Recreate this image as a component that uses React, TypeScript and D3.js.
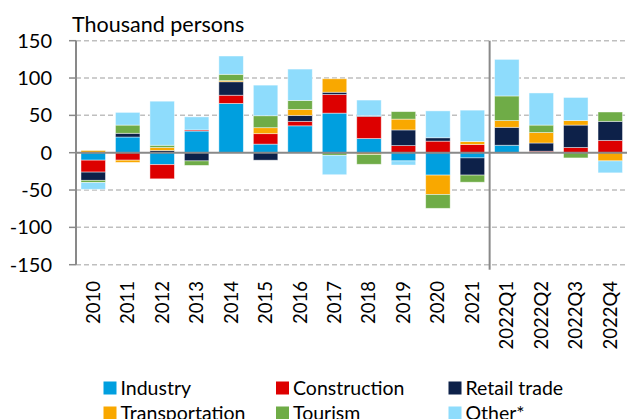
import React from "react";
import * as d3 from "d3";

const categories = ["2010","2011","2012","2013","2014","2015","2016","2017","2018","2019","2020","2021","2022Q1","2022Q2","2022Q3","2022Q4"];
const seriesNames = ["Industry","Construction","Retail trade","Transportation","Tourism","Other*"];
const industry =       [-10, 21, -16, 29, 66, 11.5, 36, 53, 19, -11, -30, -7, 10, 0, 0, 0];
const construction =   [-16, -10, -19, 1.5, 11, 14, 6, 25, 29.5, 9.5, 15.5, 11, 0, 2, 7, 16.5];
const retail =         [-11, 5, 3, -11, 18, -10, 8, 3, 1, 21, 4.5, -23, 24, 11, 30, 25.5];
const transportation = [3, -3, 4, 0, 1.5, 8, 8, 18, -2.5, 14.5, -26, 4, 9, 14, 6, -11];
const tourism =        [-3, 11, 3, -6, 8.5, 16, 12, -3.5, -13, 10, -18.5, -9.5, 33, 10, -7, 12.5];
const other =          [-9, 17, 59, 17.5, 24.5, 41, 42, -26, 21, -5.5, 36, 42, 49, 43, 31, -16];
const yTicks = [150, 100, 50, 0, -50, -100, -150];
const colors = ["#009FDF", "#DD0000", "#0D2149", "#F9A800", "#6FAC47", "#8EDCFC"];

const W = 627, H = 419;
const FONT = "Lato, 'Open Sans', sans-serif";

export default function App() {
  const seriesValues = [industry, construction, retail, transportation, tourism, other];
  const rows = categories.map((c, i) => {
    const r: any = { cat: c };
    seriesNames.forEach((s, j) => (r[s] = seriesValues[j][i]));
    return r;
  });
  const stacked = d3.stack<any>().keys(seriesNames).offset(d3.stackOffsetDiverging)(rows);

  const x = d3.scaleBand().domain(categories).range([76, 627.5]).paddingInner(0.29).paddingOuter(0.145);
  const y = d3.scaleLinear().domain([-150, 150]).range([264.7, 40.7]);
  const x0 = 76, x1 = 627;
  const step = x.step();
  const sepX = (x("2022Q1") as number) - (x.paddingInner() * step) / 2;

  const legendCols = [103.5, 276, 448.5];
  const legendRows = [381.5, 406.5];

  return (
    <svg width={W} height={H} style={{ position: "absolute", left: 0, top: 0, background: "#fff" }} fontFamily={FONT}>
      <text x={72} y={32} fontSize={21.5} fill="#000">Thousand persons</text>
      {yTicks.filter(t => t !== 0).map(t => (
        <line key={"g" + t} x1={x0} x2={x1} y1={y(t)} y2={y(t)} stroke="#BFBFBF" strokeWidth={1.5} strokeDasharray="5,3" />
      ))}
      {yTicks.map(t => (
        <g key={"t" + t}>
          <line x1={x0 - 7} x2={x0} y1={y(t)} y2={y(t)} stroke="#898989" strokeWidth={1.5} />
          <text x={52} y={y(t)} dy="0.35em" textAnchor="end" fontSize={20} fill="#000">{t}</text>
        </g>
      ))}
      {stacked.map((s, j) => (
        <g key={s.key} fill={colors[j]}>
          {s.map((d, i) => {
            const h = Math.abs(y(d[0]) - y(d[1]));
            if (h < 0.01) return null;
            return (
              <rect key={i} x={x(categories[i])} width={x.bandwidth()} y={Math.min(y(d[0]), y(d[1]))} height={h}
                stroke="#ffffff" strokeOpacity={0.55} strokeWidth={0.8} />
            );
          })}
        </g>
      ))}
      <line x1={x0} x2={x1} y1={y(0)} y2={y(0)} stroke="#898989" strokeWidth={2} />
      <line x1={x0} x2={x0} y1={y(150)} y2={y(-150)} stroke="#898989" strokeWidth={2} />
      <line x1={sepX} x2={sepX} y1={y(150)} y2={y(-150) + 5} stroke="#898989" strokeWidth={2} />
      {categories.map(c => {
        const cx = (x(c) as number) + x.bandwidth() / 2;
        return (
          <text key={c} transform={`translate(${cx},281) rotate(-90)`} textAnchor="end" dy="0.35em" fontSize={18.5} fill="#000">{c}</text>
        );
      })}
      {seriesNames.map((s, j) => {
        const lx = legendCols[j % 3];
        const ly = legendRows[Math.floor(j / 3)];
        return (
          <g key={"l" + s}>
            <rect x={lx} y={ly} width={13} height={13} fill={colors[j]} />
            <text x={lx + 17} y={ly + 6.5} dy="0.36em" fontSize={19.5} fill="#000">{s}</text>
          </g>
        );
      })}
    </svg>
  );
}
